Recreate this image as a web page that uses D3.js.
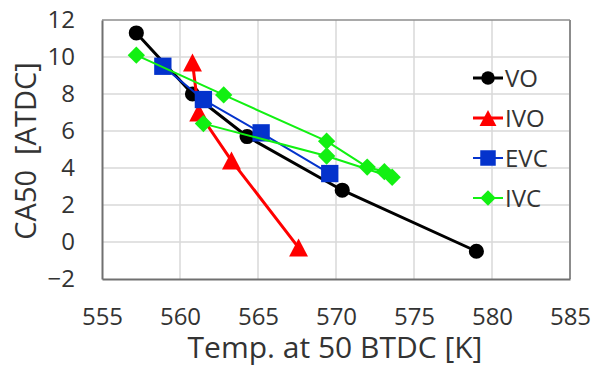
<!DOCTYPE html>
<html>
<head>
<meta charset="utf-8">
<script src="https://cdn.jsdelivr.net/npm/d3@7/dist/d3.min.js"></script>
<style>
  html, body { margin: 0; padding: 0; background: #ffffff; }
  svg { display: block; }
  text { font-family: "Open Sans", "Noto Sans", sans-serif; fill: #333333; }
</style>
</head>
<body>
<svg id="chart" width="595" height="367"></svg>
<script>
// Combustion phasing (CA50) versus charge temperature at 50 deg BTDC
const xTicks = [555, 560, 565, 570, 575, 580, 585];
const yTicks = [-2, 0, 2, 4, 6, 8, 10, 12];

const voTemp  = [557.2, 560.8, 564.3, 570.4, 579.0];
const voCA50  = [11.3, 8.0, 5.7, 2.8, -0.5];

const ivoTemp = [560.8, 561.2, 563.3, 567.6];
const ivoCA50 = [9.7, 7.0, 4.4, -0.3];

const evcTemp = [558.9, 561.5, 565.2, 569.6];
const evcCA50 = [9.5, 7.7, 5.9, 3.7];

const ivcTemp = [557.2, 562.8, 569.4, 572.0, 573.1, 573.6, 569.4, 561.5];
const ivcCA50 = [10.1, 7.95, 5.45, 4.05, 3.8, 3.5, 4.65, 6.4];

const seriesNames = ["VO", "IVO", "EVC", "IVC"];

const svg = d3.select("#chart");
svg.append("rect").attr("width", 595).attr("height", 367).attr("fill", "#ffffff");

const plot = { left: 102, right: 570, top: 20, bottom: 279 };
const x = d3.scaleLinear().domain([555, 585]).range([plot.left, plot.right]);
const y = d3.scaleLinear().domain([-2, 12]).range([plot.bottom, plot.top]);

// grid
const grid = svg.append("g");
grid.selectAll("line.v").data(xTicks.slice(1, -1)).join("line")
  .attr("x1", d => x(d)).attr("x2", d => x(d))
  .attr("y1", plot.top).attr("y2", plot.bottom)
  .attr("stroke", "#d9d9d9").attr("stroke-width", 1.5);
grid.selectAll("line.h").data(yTicks.slice(1, -1)).join("line")
  .attr("x1", plot.left).attr("x2", plot.right)
  .attr("y1", d => y(d)).attr("y2", d => y(d))
  .attr("stroke", "#d9d9d9").attr("stroke-width", 1.5);

// plot frame
svg.append("line").attr("x1", plot.left).attr("x2", plot.right)
  .attr("y1", plot.top).attr("y2", plot.top).attr("stroke", "#8c8c8c").attr("stroke-width", 1.5);
svg.append("line").attr("x1", plot.right).attr("x2", plot.right)
  .attr("y1", plot.top).attr("y2", plot.bottom).attr("stroke", "#8c8c8c").attr("stroke-width", 2);

// axes
const xAxis = svg.append("g").attr("transform", `translate(0,${plot.bottom})`)
  .call(d3.axisBottom(x).tickValues(xTicks).tickSize(0).tickPadding(29).tickFormat(d3.format("d")));
const yAxis = svg.append("g").attr("transform", `translate(${plot.left},0)`)
  .call(d3.axisLeft(y).tickValues(yTicks).tickSize(0).tickPadding(27).tickFormat(d3.format("d")));
[xAxis, yAxis].forEach(g => {
  g.select(".domain").attr("stroke", "#707070").attr("stroke-width", 2);
  g.selectAll("text").style("font-family", '"Open Sans", sans-serif')
    .style("font-size", "24px").attr("fill", "#333333");
});

// axis titles
svg.append("text").attr("x", 335).attr("y", 358).attr("text-anchor", "middle")
  .style("font-size", "30px").text("Temp. at 50 BTDC [K]");
svg.append("text").attr("transform", "translate(36,151) rotate(-90)")
  .attr("text-anchor", "middle").style("font-size", "29px")
  .text("CA50\u00A0 [ATDC]");

// marker shapes (triangle centred on its bounding box, diamond as a rotated square)
const triangleBox = {
  draw(ctx, size) {
    const w = Math.sqrt(size * 2 / 0.95);
    const h = w * 0.95;
    ctx.moveTo(0, -h / 2);
    ctx.lineTo(w / 2, h / 2);
    ctx.lineTo(-w / 2, h / 2);
    ctx.closePath();
  }
};

const series = [
  { name: seriesNames[0], xs: voTemp,  ys: voCA50,  color: "#000000", width: 3, type: d3.symbolCircle, size: 180, rot: 0 },
  { name: seriesNames[1], xs: ivoTemp, ys: ivoCA50, color: "#ff0000", width: 3, type: triangleBox,     size: 170, rot: 0 },
  { name: seriesNames[2], xs: evcTemp, ys: evcCA50, color: "#0433cc", width: 2, type: d3.symbolSquare, size: 300, rot: 0 },
  { name: seriesNames[3], xs: ivcTemp, ys: ivcCA50, color: "#12f012", width: 2, type: d3.symbolSquare, size: 150, rot: 45 }
];

const line = d3.line().x(d => x(d[0])).y(d => y(d[1]));

series.forEach(s => {
  const pts = s.xs.map((v, i) => [v, s.ys[i]]);
  const g = svg.append("g");
  g.append("path").attr("d", line(pts)).attr("fill", "none")
    .attr("stroke", s.color).attr("stroke-width", s.width).attr("stroke-linejoin", "round");
  g.selectAll("path.m").data(pts).join("path")
    .attr("class", "m")
    .attr("d", d3.symbol().type(s.type).size(s.size)())
    .attr("transform", d => `translate(${x(d[0])},${y(d[1])}) rotate(${s.rot})`)
    .attr("fill", s.color);
});

// legend
const legend = svg.append("g");
series.forEach((s, i) => {
  const ly = 78 + i * 40;
  legend.append("line").attr("x1", 473).attr("x2", 503).attr("y1", ly).attr("y2", ly)
    .attr("stroke", s.color).attr("stroke-width", s.width);
  legend.append("path")
    .attr("d", d3.symbol().type(s.type).size(s.size * 0.8)())
    .attr("transform", `translate(488,${ly}) rotate(${s.rot})`)
    .attr("fill", s.color);
  legend.append("text").attr("x", 505).attr("y", ly).attr("dy", "0.36em")
    .style("font-size", "24px").text(s.name);
});
</script>
</body>
</html>
